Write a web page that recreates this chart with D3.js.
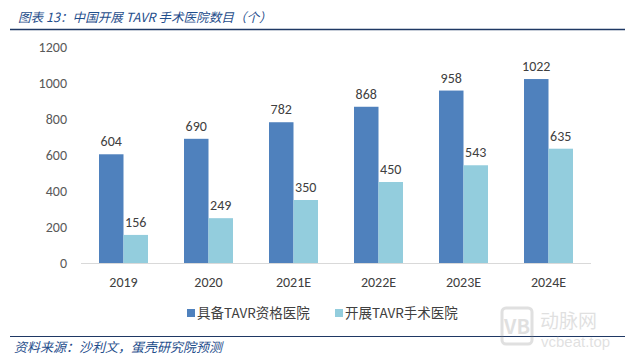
<!DOCTYPE html>
<html><head><meta charset="utf-8">
<script src="https://cdn.jsdelivr.net/npm/d3@7"></script>
<style>
html,body{margin:0;padding:0;background:#fff;}
svg{display:block;font-family:"Microsoft YaHei","Noto Sans CJK SC",sans-serif;}
</style></head>
<body>
<svg id="c" width="633" height="359"></svg>
<script>
const categories = ["2019","2020","2021E","2022E","2023E","2024E"];
const seriesNames = ["具备TAVR资格医院","开展TAVR手术医院"];
const qualified = [604,690,782,868,958,1022];
const performing = [156,249,350,450,543,635];
const yTicks = [0,200,400,600,800,1000,1200];
const colors = ["#4F81BD","#93CDDD"];
const numFont = "Calibri,Carlito,'Liberation Sans',sans-serif";

const svg = d3.select("#c");

// title
svg.append("text").attr("x",18).attr("y",22).attr("font-size",12.6).attr("font-style","italic")
  .attr("fill","#1F4E8C").text("图表 13：中国开展 TAVR 手术医院数目（个）");
svg.append("line").attr("x1",10).attr("x2",625).attr("y1",29.5).attr("y2",29.5)
  .attr("stroke","#1F3864").attr("stroke-width",1.5);

const x = d3.scaleBand().domain(categories).range([81,591]).padding(0);
const y = d3.scaleLinear().domain([0,1200]).range([263,47]);
const sub = d3.scaleBand().domain([0,1]).range([-24.5,24.5]).padding(0);

// y axis labels
const yAxis = d3.axisLeft(y).tickValues(yTicks).tickFormat(d3.format("d")).tickSize(0).tickPadding(0);
const ga = svg.append("g").attr("transform","translate(67,0)").call(yAxis);
ga.select(".domain").remove();
ga.selectAll("text").attr("font-size",14).attr("fill","#595959").attr("dy","0.35em")
  .attr("font-family",numFont);

// baseline
svg.append("line").attr("x1",81).attr("x2",591).attr("y1",263.5).attr("y2",263.5)
  .attr("stroke","#D9D9D9").attr("stroke-width",1);

// x axis labels
const xAxis = d3.axisBottom(x).tickSize(0).tickPadding(0);
const gx = svg.append("g").attr("transform","translate(0,282)").call(xAxis);
gx.select(".domain").remove();
gx.selectAll("text").attr("font-size",14).attr("fill","#404040").attr("dy","0.35em")
  .attr("font-family",numFont);

const data = [qualified, performing];
data.forEach((vals,si)=>{
  const g = svg.append("g");
  g.selectAll("rect").data(categories).enter().append("rect")
    .attr("x",(d)=>x(d)+x.bandwidth()/2+sub(si))
    .attr("width",sub.bandwidth())
    .attr("y",(d,i)=>y(vals[i]))
    .attr("height",(d,i)=>y(0)-y(vals[i]))
    .attr("fill",colors[si]);
  g.selectAll("text").data(categories).enter().append("text")
    .attr("x",(d)=>x(d)+x.bandwidth()/2+sub(si)+sub.bandwidth()/2)
    .attr("y",(d,i)=>y(vals[i])-8)
    .attr("text-anchor","middle").attr("font-size",14).attr("fill","#404040")
    .attr("font-family",numFont)
    .text((d,i)=>vals[i]);
});

// legend
const legX = [187,335];
seriesNames.forEach((n,i)=>{
  svg.append("rect").attr("x",legX[i]).attr("y",309).attr("width",8).attr("height",8).attr("fill",colors[i]);
  svg.append("text").attr("x",legX[i]+10).attr("y",318).attr("font-size",13.5).attr("fill","#404040").text(n);
});

// footer
svg.append("line").attr("x1",10).attr("x2",625).attr("y1",336.5).attr("y2",336.5)
  .attr("stroke","#1F3864").attr("stroke-width",1.2);
svg.append("text").attr("x",14).attr("y",352).attr("font-size",13).attr("font-style","italic")
  .attr("fill","#1F4E8C").text("资料来源：沙利文，蛋壳研究院预测");

// watermark
const wm = svg.append("g").attr("opacity",0.25);
wm.append("rect").attr("x",502).attr("y",308).attr("width",30).attr("height",36).attr("rx",4)
  .attr("fill","none").attr("stroke","#888").attr("stroke-width",3);
wm.append("text").attr("x",517).attr("y",334).attr("text-anchor","middle").attr("font-size",20)
  .attr("font-weight","bold").attr("fill","#888").text("VB");
wm.append("text").attr("x",540).attr("y",328).attr("font-size",19).attr("fill","#888").text("动脉网");
wm.append("text").attr("x",541).attr("y",347).attr("font-size",15).attr("fill","#888")
  .attr("font-family","Arial,'Liberation Sans',sans-serif").text("vcbeat.top");
</script>
</body></html>
